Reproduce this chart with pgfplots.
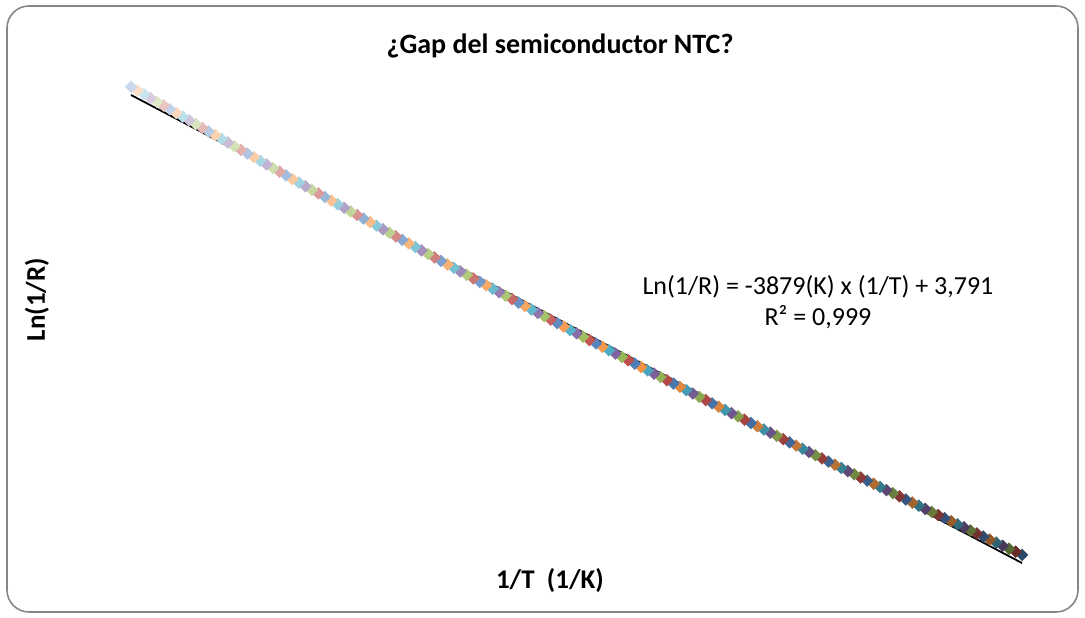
\documentclass[border=0pt]{standalone}
\usepackage{pgfplots}
\pgfplotsset{compat=1.18}
\usepackage{pgfplotstable}
\usepackage{fontspec}
\setmainfont{Carlito}
\definecolor{acc0}{HTML}{4F81BD}
\definecolor{acc1}{HTML}{C0504D}
\definecolor{acc2}{HTML}{9BBB59}
\definecolor{acc3}{HTML}{8064A2}
\definecolor{acc4}{HTML}{4BACC6}
\definecolor{acc5}{HTML}{F79646}
\definecolor{framegray}{HTML}{868686}

\pgfplotstableread{
i x y
0 0.0034000 -9.3835
1 0.0033985 -9.3783
2 0.0033970 -9.3731
3 0.0033955 -9.3679
4 0.0033940 -9.3627
5 0.0033925 -9.3574
6 0.0033910 -9.3522
7 0.0033895 -9.3469
8 0.0033880 -9.3417
9 0.0033865 -9.3364
10 0.0033850 -9.3311
11 0.0033835 -9.3258
12 0.0033820 -9.3205
13 0.0033805 -9.3152
14 0.0033790 -9.3099
15 0.0033775 -9.3046
16 0.0033760 -9.2992
17 0.0033745 -9.2939
18 0.0033730 -9.2885
19 0.0033715 -9.2832
20 0.0033700 -9.2778
21 0.0033685 -9.2724
22 0.0033670 -9.2670
23 0.0033655 -9.2616
24 0.0033640 -9.2562
25 0.0033625 -9.2508
26 0.0033610 -9.2454
27 0.0033595 -9.2399
28 0.0033580 -9.2345
29 0.0033565 -9.2290
30 0.0033550 -9.2236
31 0.0033535 -9.2181
32 0.0033520 -9.2126
33 0.0033505 -9.2071
34 0.0033490 -9.2016
35 0.0033475 -9.1961
36 0.0033460 -9.1906
37 0.0033445 -9.1851
38 0.0033430 -9.1795
39 0.0033415 -9.1740
40 0.0033400 -9.1685
41 0.0033385 -9.1629
42 0.0033370 -9.1573
43 0.0033355 -9.1517
44 0.0033340 -9.1461
45 0.0033325 -9.1405
46 0.0033310 -9.1349
47 0.0033295 -9.1293
48 0.0033280 -9.1237
49 0.0033265 -9.1181
50 0.0033250 -9.1124
51 0.0033235 -9.1068
52 0.0033220 -9.1011
53 0.0033205 -9.0954
54 0.0033190 -9.0898
55 0.0033175 -9.0841
56 0.0033160 -9.0784
57 0.0033145 -9.0727
58 0.0033130 -9.0670
59 0.0033115 -9.0612
60 0.0033100 -9.0555
61 0.0033085 -9.0498
62 0.0033070 -9.0440
63 0.0033055 -9.0382
64 0.0033040 -9.0325
65 0.0033025 -9.0267
66 0.0033010 -9.0209
67 0.0032995 -9.0151
68 0.0032980 -9.0093
69 0.0032965 -9.0035
70 0.0032950 -8.9977
71 0.0032935 -8.9918
72 0.0032920 -8.9860
73 0.0032905 -8.9802
74 0.0032890 -8.9743
75 0.0032875 -8.9684
76 0.0032860 -8.9626
77 0.0032845 -8.9567
78 0.0032830 -8.9508
79 0.0032815 -8.9449
80 0.0032800 -8.9390
81 0.0032785 -8.9330
82 0.0032770 -8.9271
83 0.0032755 -8.9212
84 0.0032740 -8.9152
85 0.0032725 -8.9092
86 0.0032710 -8.9033
87 0.0032695 -8.8973
88 0.0032680 -8.8913
89 0.0032665 -8.8853
90 0.0032650 -8.8793
91 0.0032635 -8.8733
92 0.0032620 -8.8673
93 0.0032605 -8.8613
94 0.0032590 -8.8552
95 0.0032575 -8.8492
96 0.0032560 -8.8431
97 0.0032545 -8.8371
98 0.0032530 -8.8310
99 0.0032515 -8.8249
100 0.0032500 -8.8188
101 0.0032485 -8.8127
102 0.0032470 -8.8066
103 0.0032455 -8.8005
104 0.0032440 -8.7943
105 0.0032425 -8.7882
106 0.0032410 -8.7820
107 0.0032395 -8.7759
108 0.0032380 -8.7697
109 0.0032365 -8.7636
110 0.0032350 -8.7574
111 0.0032335 -8.7512
112 0.0032320 -8.7450
113 0.0032305 -8.7388
114 0.0032290 -8.7326
115 0.0032275 -8.7263
116 0.0032260 -8.7201
117 0.0032245 -8.7138
118 0.0032230 -8.7076
119 0.0032215 -8.7013
120 0.0032200 -8.6951
121 0.0032185 -8.6888
122 0.0032170 -8.6825
123 0.0032155 -8.6762
124 0.0032140 -8.6699
125 0.0032125 -8.6635
126 0.0032110 -8.6572
127 0.0032095 -8.6509
128 0.0032080 -8.6445
129 0.0032065 -8.6382
130 0.0032050 -8.6318
131 0.0032035 -8.6254
132 0.0032020 -8.6191
133 0.0032005 -8.6127
134 0.0031990 -8.6063
135 0.0031975 -8.5999
136 0.0031960 -8.5934
137 0.0031945 -8.5870
138 0.0031930 -8.5806
}\datatable

\begin{document}
\begin{tikzpicture}
\path[use as bounding box] (0pt,0pt) rectangle (1085pt,618pt);
\draw[framegray, line width=1.6pt, rounded corners=22pt] (7pt,6pt) rectangle (1078pt,612pt);
\begin{axis}[
  scale only axis,
  width=951.3pt, height=529.9pt,
  at={(100.9pt,27.9pt)}, anchor=south west,
  xmin=0.003186, xmax=0.003407,
  ymin=-9.444, ymax=-8.535,
  axis line style={draw=none},
  xtick=\empty, ytick=\empty,
  clip=false,
  title={¿Gap del semiconductor NTC?},
  title style={at={(axis description cs:0.4826,1.0155)}, anchor=center,
    font=\fontsize{28}{34}\selectfont\bfseries},
  xlabel={1/T\ \ (1/K)},
  xlabel style={at={(axis description cs:0.472,0.019)}, anchor=center,
    font=\fontsize{27}{32}\selectfont\bfseries},
  ylabel={Ln(1/R)},
  ylabel style={at={(axis description cs:-0.0672,0.548)}, anchor=center,
    font=\fontsize{27}{32}\selectfont\bfseries},
]
\addplot[scatter, only marks, mark=square*, mark size=4.2pt,
  mark options={rotate=45},
  visualization depends on={value \coordindex\as\cidx},
  scatter/@pre marker code/.code={%
    \pgfmathtruncatemacro\k{mod(\cidx,6)}%
    \ifnum\cidx<63
      \pgfmathtruncatemacro\p{55+45*\cidx/63}%
      \colorlet{mk}{acc\k!\p!black}%
    \else
      \pgfmathtruncatemacro\p{100-70*(\cidx-63)/75}%
      \colorlet{mk}{acc\k!\p!white}%
    \fi
    \scope[fill=mk,draw=mk]%
  },
  scatter/@post marker code/.code={\endscope},
] table[x=x,y=y] {\datatable};
\addplot[black, line width=1.8pt] coordinates {(0.0031930,-8.5947) (0.0034000,-9.3976)};
\node[align=center, anchor=center, font=\fontsize{26}{31}\selectfont]
  at (axis description cs:0.7538,0.5437)
  {Ln(1/R) = -3879(K) x (1/T) + 3,791\\R² = 0,999};
\end{axis}
\end{tikzpicture}
\end{document}
